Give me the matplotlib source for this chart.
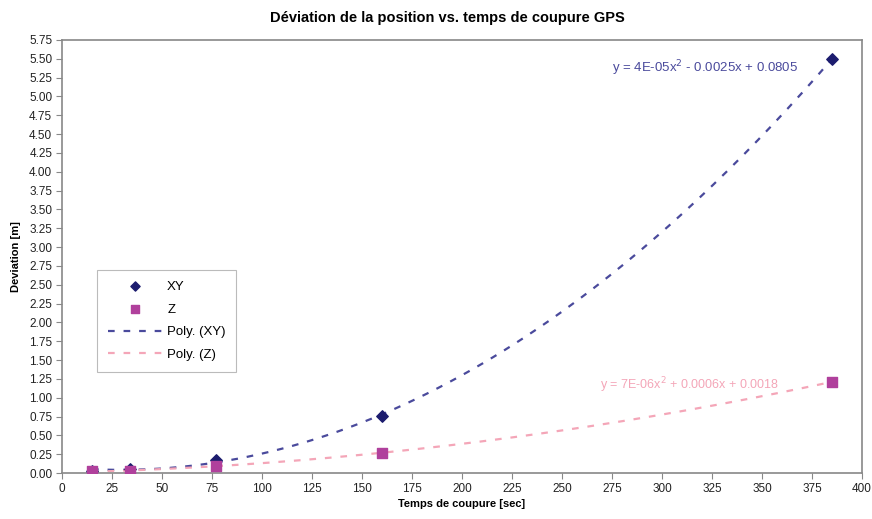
import numpy as np
import matplotlib
matplotlib.use("Agg")
import matplotlib.pyplot as plt
from matplotlib.ticker import MultipleLocator, FormatStrFormatter

plt.rcParams["font.family"] = ["Liberation Sans", "DejaVu Sans"]

# data
temps = [15, 34, 77, 160, 385]
dev_xy = [0.03, 0.05, 0.17, 0.76, 5.50]
dev_z = [0.02, 0.03, 0.09, 0.27, 1.21]

eq_xy = "y = 4E-05x$^2$ - 0.0025x + 0.0805"
eq_z = "y = 7E-06x$^2$ + 0.0006x + 0.0018"

c_xy = "#1c1c6e"
c_z = "#b0409c"
c_fit_xy = "#4a4a9c"
c_fit_z = "#f4a6b8"

fig = plt.figure(figsize=(8.72, 5.19), dpi=100)
ax = fig.add_axes([62 / 872, 1 - 473 / 519, 800 / 872, 433 / 519])

# polynomial trend lines (order 2), like the spreadsheet trendlines
xs = np.linspace(min(temps), max(temps), 200)
p_xy = np.polyfit(temps, dev_xy, 2)
p_z = np.polyfit(temps, dev_z, 2)

ax.scatter(temps, dev_xy, marker="D", s=34, color=c_xy, zorder=3, label="XY")
ax.scatter(temps, dev_z, marker="s", s=44, color=c_z, zorder=3, label="Z")
ax.plot(xs, np.polyval(p_xy, xs), ls=(0, (3, 4)), lw=1.6, color=c_fit_xy, label="Poly. (XY)")
ax.plot(xs, np.polyval(p_z, xs), ls=(0, (3, 4)), lw=1.6, color=c_fit_z, label="Poly. (Z)")

ax.set_xlim(0, 400)
ax.set_ylim(0, 5.75)
ax.xaxis.set_major_locator(MultipleLocator(25))
ax.yaxis.set_major_locator(MultipleLocator(0.25))
ax.yaxis.set_major_formatter(FormatStrFormatter("%.2f"))
ax.tick_params(labelsize=8.5, labelcolor="#222222", color="#888888", length=4, pad=3)

for s in ax.spines.values():
    s.set_color("#888888")
    s.set_linewidth(1.2)

fig.text(447 / 872, 1 - 18 / 519, "Déviation de la position vs. temps de coupure GPS",
         fontsize=10.5, fontweight="bold", ha="center", va="center")
ax.set_xlabel("Temps de coupure [sec]", fontsize=8, fontweight="bold", labelpad=3)
ax.set_ylabel("Deviation [m]", fontsize=8, fontweight="bold", labelpad=6)

ax.text(0.6875, 0.935, eq_xy, transform=ax.transAxes, fontsize=9.5, color=c_fit_xy,
        va="center")
ax.text(0.6725, 0.203, eq_z, transform=ax.transAxes, fontsize=9, color=c_fit_z,
        va="center")

leg = ax.legend(loc="upper left", bbox_to_anchor=(0.044, 0.469), fontsize=9.5,
                frameon=True, fancybox=False, edgecolor="#aaaaaa",
                handlelength=4.2, handletextpad=0.3, labelspacing=0.8,
                borderpad=0.8, borderaxespad=0, markerscale=0.8)
leg.get_frame().set_linewidth(0.8)

fig.savefig("out.png", dpi=100)
